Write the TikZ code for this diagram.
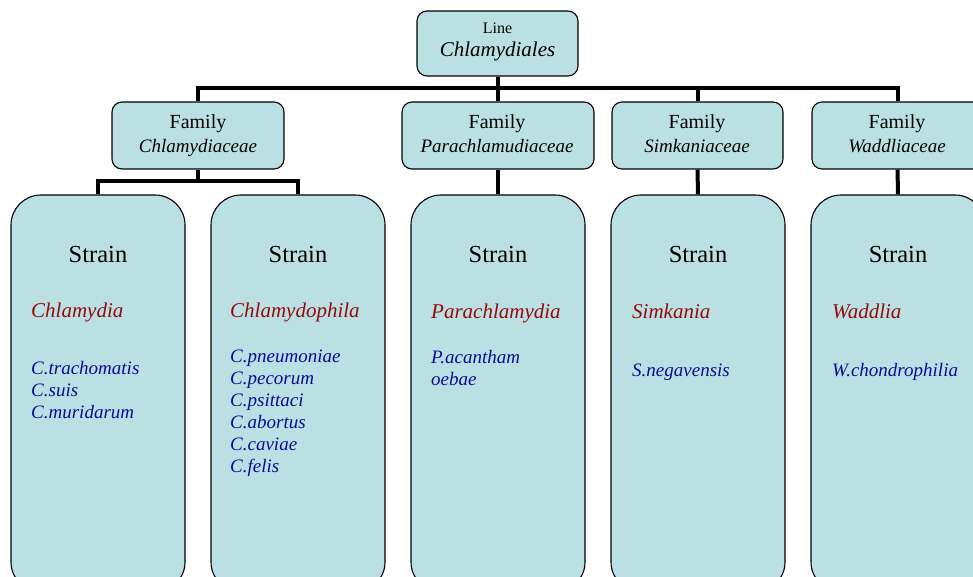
\documentclass[tikz,border=0pt]{standalone}
\usepackage{fontspec}
\setmainfont{Liberation Serif}
\definecolor{boxfill}{RGB}{187,224,227}
\definecolor{genuscol}{RGB}{150,10,10}
\definecolor{speciescol}{RGB}{10,10,150}
\begin{document}
\begin{tikzpicture}[x=1pt,y=-1pt,
  boxbase/.style={draw=black, line width=1.1pt, fill=boxfill, inner sep=0pt},
  topbox/.style={boxbase, rounded corners=10pt, minimum width=161pt, minimum height=65pt},
  fambox/.style={boxbase, rounded corners=10pt, minimum height=67pt},
  strainbox/.style={boxbase, rounded corners=30pt, minimum width=174pt, minimum height=397pt},
  conn/.style={line width=4pt, line join=miter},
  lbl/.style={inner sep=0pt, anchor=base},
  famtxt/.style={lbl, font=\fontsize{20}{22}\selectfont},
  famit/.style={lbl, font=\fontsize{19}{21}\selectfont\itshape},
  straintxt/.style={lbl, font=\fontsize{24.5}{27}\selectfont},
  genus/.style={inner sep=0pt, anchor=base west, text=genuscol, font=\fontsize{21}{23}\selectfont\itshape},
  species/.style={inner sep=0pt, anchor=base west, text=speciescol, font=\fontsize{19}{21}\selectfont\itshape}]
\useasboundingbox (0,0) rectangle (973,577);
\clip (0,0) rectangle (973,577);
% boxes
\node[topbox] (top) at (497.5,43.5) {};
\node[fambox, minimum width=172pt] (f1) at (198,135.5) {};
\node[fambox, minimum width=192pt] (f2) at (498,135.5) {};
\node[fambox, minimum width=171pt] (f3) at (697.5,135.5) {};
\node[fambox, minimum width=171pt] (f4) at (897.5,135.5) {};
\node[strainbox] (s1) at (98,393.5) {};
\node[strainbox] (s2) at (298,393.5) {};
\node[strainbox] (s3) at (498,393.5) {};
\node[strainbox] (s4) at (698,393.5) {};
\node[strainbox] (s5) at (898,393.5) {};
% connectors
\coordinate (bar) at (0,88);
\coordinate (sub) at (0,181);
\draw[conn] (top.south) -- (top.south |- bar);
\draw[conn] (f1.north) -- (f1.north |- bar) -- (f4.north |- bar) -- (f4.north);
\draw[conn] (f2.north |- bar) -- (f2.north);
\draw[conn] (f3.north |- bar) -- (f3.north);
\draw[conn] (f1.south) -- (f1.south |- sub);
\draw[conn] (s1.north) -- (s1.north |- sub) -- (s2.north |- sub) -- (s2.north);
\draw[conn] (f2.south) -- (s3.north);
\draw[conn] (f3.south) -- (s4.north);
\draw[conn] (f4.south) -- (s5.north);
% top text
\node[lbl, font=\fontsize{16}{18}\selectfont] (tl1) at (497.5,34) {Line};
\node[lbl, font=\fontsize{21}{23}\selectfont\itshape] (tl2) at (497.5,57) {Chlamydiales};
% family text
\node[famtxt] (fa1) at (198,129) {Family};
\node[famit] (fb1) at (198,153) {Chlamydiaceae};
\node[famtxt] (fa2) at (497,129) {Family};
\node[famit] (fb2) at (497,153) {Parachlamudiaceae};
\node[famtxt] (fa3) at (697,129) {Family};
\node[famit] (fb3) at (697,153) {Simkaniaceae};
\node[famtxt] (fa4) at (897,129) {Family};
\node[famit] (fb4) at (897,153) {Waddliaceae};
% strain text
\node[straintxt] (st1) at (98,262) {Strain};
\node[straintxt] (st2) at (298,262) {Strain};
\node[straintxt] (st3) at (498,262) {Strain};
\node[straintxt] (st4) at (698,262) {Strain};
\node[straintxt] (st5) at (898,262) {Strain};
% genus
\node[genus] (g1) at (31,317) {Chlamydia};
\node[genus] (g2) at (230,317) {Chlamydophila};
\node[genus] (g3) at (431,318) {Parachlamydia};
\node[genus] (g4) at (632,318) {Simkania};
\node[genus] (g5) at (832,318) {Waddlia};
% species
\foreach \t [count=\i] in {C.trachomatis, C.suis, C.muridarum}
  \node[species] (sa\i) at (31,{374+22*(\i-1)}) {\t};
\foreach \t [count=\i] in {C.pneumoniae, C.pecorum, C.psittaci, C.abortus, C.caviae, C.felis}
  \node[species] (sb\i) at (230,{362+22*(\i-1)}) {\t};
\node[species] (sc1) at (431,363) {P.acantham};
\node[species] (sc2) at (431,385) {oebae};
\node[species] (sd1) at (632,376) {S.negavensis};
\node[species] (se1) at (832,376) {W.chondrophilia};
\end{tikzpicture}
\end{document}
